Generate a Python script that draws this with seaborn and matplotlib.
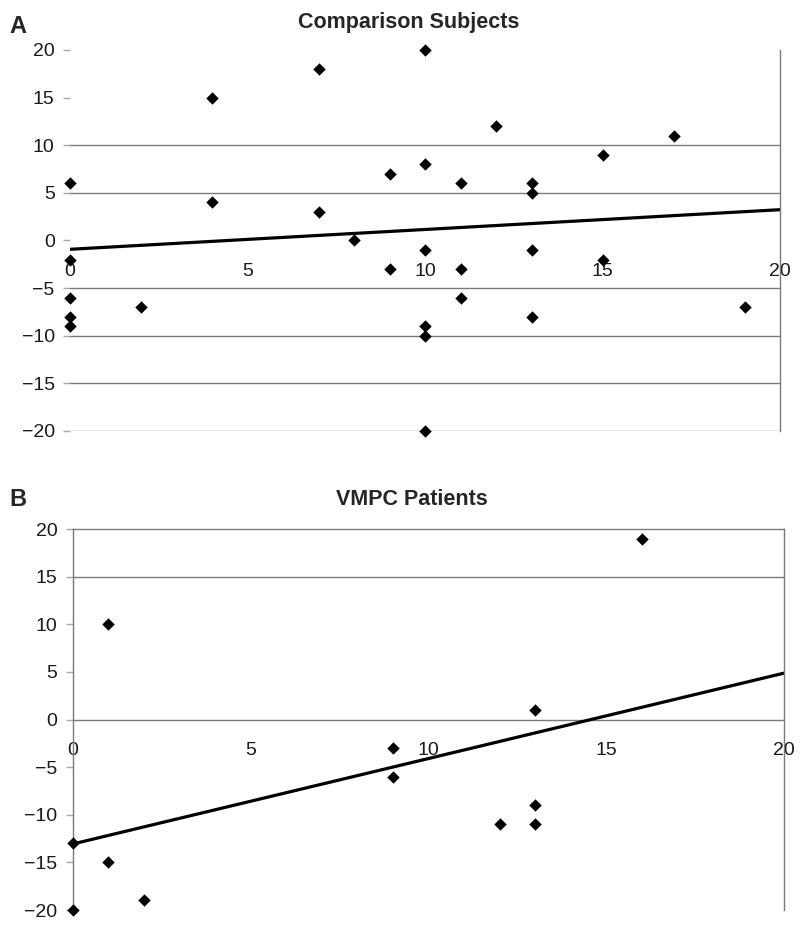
import matplotlib
matplotlib.use("Agg")
import matplotlib.pyplot as plt
import numpy as np
import pandas as pd
import seaborn as sns

# panel A - comparison subjects
comp_x = [0, 0, 0, 0, 0, 2, 4, 4, 7, 7, 8, 9, 9, 10, 10, 10, 10, 10, 10,
          11, 11, 11, 12, 13, 13, 13, 13, 15, 15, 17, 19]
comp_y = [6, -2, -6, -8, -9, -7, 15, 4, 18, 3, 0, 7, -3, 20, 8, -1, -9, -10, -20,
          6, -3, -6, 12, 6, 5, -1, -8, 9, -2, 11, -7]

# panel B - VMPC patients
vmpc_x = [0, 0, 1, 1, 2, 9, 9, 12, 13, 13, 13, 16]
vmpc_y = [-13, -20, 10, -15, -19, -3, -6, -11, 1, -9, -11, 19]

titles = ["Comparison Subjects", "VMPC Patients"]
letters = ["A", "B"]
x_ticks = [0, 5, 10, 15, 20]
y_ticks = [-20, -15, -10, -5, 0, 5, 10, 15, 20]

sns.set_style("white")
plt.rcParams["font.family"] = ["Liberation Sans", "DejaVu Sans"]

df_a = pd.DataFrame({"x": comp_x, "y": comp_y})
df_b = pd.DataFrame({"x": vmpc_x, "y": vmpc_y})

fig = plt.figure(figsize=(8, 9.32), dpi=100)
ax_a = fig.add_axes([0.0875, 0.5376, 0.8875, 0.4088])
ax_b = fig.add_axes([0.091, 0.0236, 0.889, 0.4088])

grid_col = "#7a7a7a"

for ax, df, title, pad in zip([ax_a, ax_b], [df_a, df_b], titles, [16, 17]):
    ax.set_xlim(0, 20)
    ax.set_ylim(-20, 20)
    sns.scatterplot(data=df, x="x", y="y", marker="D", s=40, color="black",
                    edgecolor="black", linewidth=0, ax=ax, zorder=3, clip_on=False)
    sns.regplot(data=df, x="x", y="y", scatter=False, ci=None, truncate=False,
                line_kws={"color": "black", "lw": 2.3}, ax=ax)
    ax.set_xlim(0, 20)
    ax.set_ylim(-20, 20)
    ax.set_xticks(x_ticks)
    ax.set_yticks(y_ticks)
    ax.set_xlabel("")
    ax.set_ylabel("")
    ax.spines["bottom"].set_position(("data", 0))
    ax.spines["bottom"].set_visible(False)
    ax.spines["right"].set_color(grid_col)
    ax.spines["right"].set_linewidth(1.0)
    ax.tick_params(axis="x", length=0, pad=16, labelsize=14, colors="#1a1a1a")
    ax.tick_params(axis="y", length=5, width=1, color="#a8a8a8", pad=6,
                   labelsize=14, labelcolor="#1a1a1a", left=True)
    ax.set_title(title, fontsize=15.5, fontweight="bold", pad=pad, x=0.477)

fig.text(0.012, 0.9646, letters[0], fontsize=17, fontweight="bold",
         ha="left", va="baseline")
fig.text(0.012, 0.457, letters[1], fontsize=17, fontweight="bold",
         ha="left", va="baseline")

# panel A: gridlines only from -20 up to 10, no left axis line
for val in [-20, -15, -10, -5, 5, 10]:
    ax_a.axhline(val, color=grid_col, lw=1.0, zorder=1)
ax_a.spines["left"].set_visible(False)
ax_a.spines["top"].set_visible(False)

# panel B: frame on top, gridlines at 15 and 0, left axis line
for val in [15, 0]:
    ax_b.axhline(val, color=grid_col, lw=1.0, zorder=1)
ax_b.spines["top"].set_color(grid_col)
ax_b.spines["top"].set_linewidth(1.0)
ax_b.spines["left"].set_color(grid_col)
ax_b.spines["left"].set_linewidth(1.0)

fig.savefig("out.png", dpi=100)
